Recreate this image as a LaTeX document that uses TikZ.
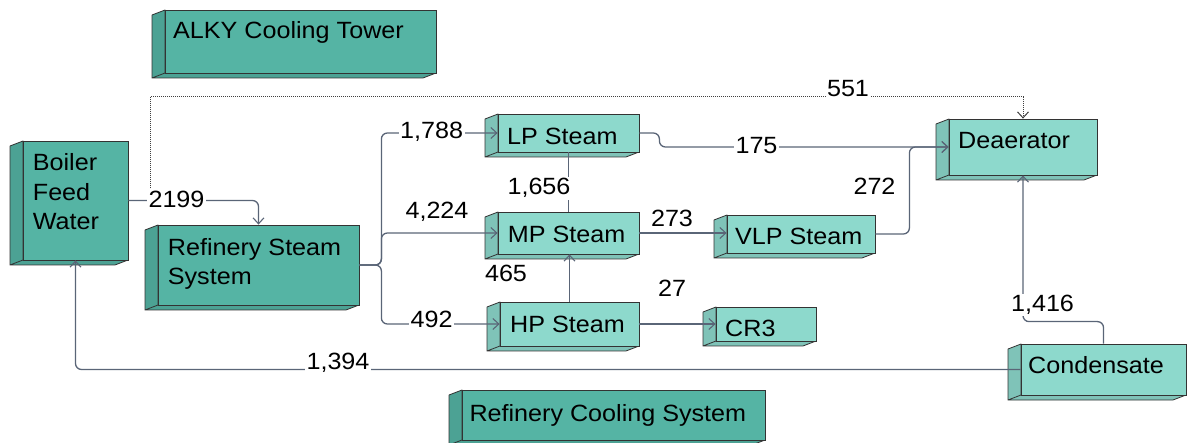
\documentclass[tikz,border=0pt]{standalone}
\usepackage{fontspec}
\setmainfont{Liberation Sans}[FakeStretch=1.07]
\usetikzlibrary{arrows.meta,fit,calc}

\definecolor{tealdark}{HTML}{55B4A4}
\definecolor{teallight}{HTML}{8DD9CC}
\definecolor{edge}{HTML}{333333}
\definecolor{flow}{HTML}{5A6577}

\tikzset{
  face/.style={rectangle, draw=edge, line width=0.8pt, inner sep=0pt},
  txt/.style={anchor=base west, inner sep=0pt, font=\fontsize{23.5}{28}\selectfont},
  num/.style={anchor=base, fill=white, inner sep=1.5pt, font=\fontsize{23.5}{28}\selectfont},
  flowline/.style={draw=flow, line width=1.3pt, rounded corners=6pt},
  arr/.style={flowline, -{Straight Barb[length=6pt,width=11pt,line width=1.1pt]}},
  dotflow/.style={draw=black!75, line width=1pt, densely dotted,
    -{Straight Barb[length=6pt,width=11pt,line width=1pt]}},
}

% a block with its front face at (left,top)-(right,bottom) and depth to the lower left
\newcommand\slab[6]{%
  \filldraw[fill=#6!90!black, draw=edge, line width=0.8pt, line join=round]
    (#2,#3) -- (#2-13,#3+5) -- (#2-13,#5+5) -- (#2,#5) -- cycle
    (#2,#5) -- (#4,#5) -- (#4-13,#5+5) -- (#2-13,#5+5) -- cycle;
  \node[face, fill=#6, fit={(#2,#3) (#4,#5)}] (#1) {};
}

\begin{document}
\begin{tikzpicture}[x=1pt, y=-1pt]
\useasboundingbox (0,0) rectangle (1188,443);

% blocks
\slab{alky}{165}{10}{436}{73}{tealdark}
\slab{bfw}{23}{141}{128}{260}{tealdark}
\slab{rss}{158}{225}{359}{305}{tealdark}
\slab{rcs}{462}{390}{765}{440}{tealdark}
\slab{lp}{498}{114}{639}{152}{teallight}
\slab{mp}{498}{212}{639}{254}{teallight}
\slab{hp}{500}{302}{639}{346}{teallight}
\slab{vlp}{727}{215}{875}{253}{teallight}
\slab{dea}{949}{119}{1097}{175}{teallight}
\slab{cr3}{716}{307}{816}{341}{teallight}
\slab{cond}{1021}{344}{1186}{395}{teallight}

% block captions
\node[txt] (alkyT) at (173,38.3) {ALKY Cooling Tower};
\node[txt] (bfwT1) at (32.7,170.7) {Boiler};
\node[txt] (bfwT2) at (32.7,200.4) {Feed};
\node[txt] (bfwT3) at (32.7,230) {Water};
\node[txt] (rssT1) at (167.7,256) {Refinery Steam};
\node[txt] (rssT2) at (167.7,284.5) {System};
\node[txt] (rcsT) at (469.3,421.7) {Refinery Cooling System};
\node[txt] (lpT) at (507,144.3) {LP Steam};
\node[txt] (mpT) at (507.7,242.7) {MP Steam};
\node[txt] (hpT) at (510,332.3) {HP Steam};
\node[txt] (vlpT) at (735,245) {VLP Steam};
\node[txt] (deaT) at (958,149) {Deaerator};
\node[txt] (cr3T) at (725,337) {CR3};
\node[txt] (condT) at (1028,373.3) {Condensate};

% flows
\draw[dotflow] (bfw.east) -- ++(22,0) -- ++(0,-103.5) -| (dea.north);
\draw[arr] (bfw.east) -| (rss.north);
\draw[arr] (rss.east) -- ++(22,0) |- (lp.west);
\draw[arr] (rss.east) -- ++(22,0) |- (mp.west);
\draw[arr] (rss.east) -- ++(22,0) |- (hp.west);
\draw[flowline] (lp.south) -- (mp.north);
\draw[arr] (hp.north) -- (hp.north |- mp.south);
\draw[arr] (hp.east) -- (hp.east -| cr3.west);
\draw[arr] (mp.east) -- (mp.east -| vlp.west);
\draw[arr] (lp.east) -- ++(20,0) |- (dea.west);
\draw[arr] (vlp.east) -- ++(34,0) |- (dea.west);
\draw[arr] (cond.north) -- ++(0,-22) -| (dea.south);
\draw[arr] (cond.west) -| (bfw.south);

% flow quantities
\node[num] (q2199) at (176.5,207.3) {2199};
\node[num] (q551) at (848,97) {551};
\node[num] (q1788) at (431.7,138.3) {1,788};
\node[num] (q4224) at (437,218.3) {4,224};
\node[num] (q492) at (431.7,327.7) {492};
\node[num] (q1656) at (539,195) {1,656};
\node[num] (q465) at (506,281.7) {465};
\node[num] (q27) at (672,296.7) {27};
\node[num] (q273) at (672,226.7) {273};
\node[num] (q175) at (756.5,154) {175};
\node[num] (q272) at (874.5,195) {272};
\node[num] (q1416) at (1042.5,311.7) {1,416};
\node[num] (q1394) at (338,370) {1,394};
\end{tikzpicture}
\end{document}
